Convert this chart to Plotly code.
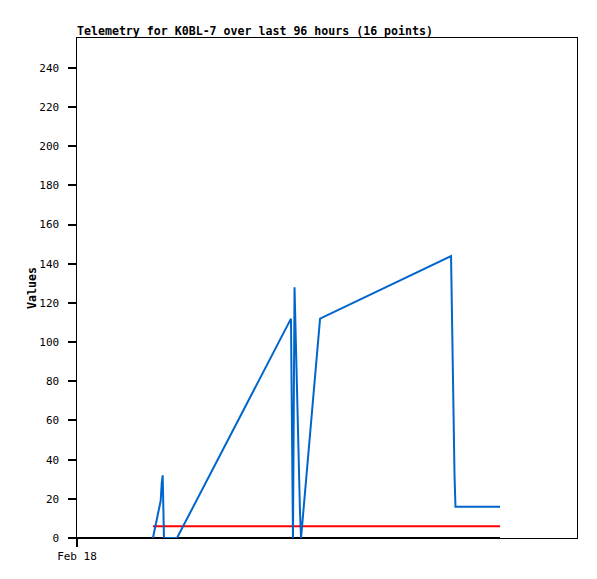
import plotly.graph_objects as go

# Blue telemetry series
blue_times = [
    "2024-02-18 14:35", "2024-02-18 16:04", "2024-02-18 16:16", "2024-02-18 16:27",
    "2024-02-18 16:42", "2024-02-18 19:12",
    "2024-02-19 17:05", "2024-02-19 17:17", "2024-02-19 17:28", "2024-02-19 17:46",
    "2024-02-19 18:03", "2024-02-19 18:14", "2024-02-19 18:32", "2024-02-19 18:49",
    "2024-02-19 19:01", "2024-02-19 22:40",
    "2024-02-20 23:49", "2024-02-20 23:54", "2024-02-21 00:06", "2024-02-21 00:17",
    "2024-02-21 00:29", "2024-02-21 00:40", "2024-02-21 09:13",
]
blue_values = [
    0, 19, 28, 32,
    0, 0,
    112, 28, 0, 128,
    96, 75, 32, 13,
    0, 112,
    144, 128, 96, 64,
    32, 16, 16,
]

red_times = ["2024-02-18 14:35", "2024-02-21 09:13"]
red_values = [6, 6]

black_times = ["2024-02-18 00:00", "2024-02-21 09:13"]
black_values = [0, 0]

x_range = ["2024-02-18 00:00", "2024-02-22 00:00"]
y_ticks = list(range(0, 241, 20))
y_ticktext = [f"{v}\u00a0" for v in y_ticks]
x_tickvals = ["2024-02-18 00:00"]
x_ticktext = ["Feb 18"]

fig = go.Figure()
fig.add_trace(go.Scatter(x=black_times, y=black_values, mode="lines",
                         line=dict(color="#000000", width=2), showlegend=False))
fig.add_trace(go.Scatter(x=red_times, y=red_values, mode="lines",
                         line=dict(color="#FF0000", width=2), showlegend=False))
fig.add_trace(go.Scatter(x=blue_times, y=blue_values, mode="lines",
                         line=dict(color="#0066CC", width=2), showlegend=False))

mono = "DejaVu Sans Mono"
fig.update_layout(
    width=597, height=579,
    margin=dict(l=69, r=28, t=30, b=49),
    plot_bgcolor="white", paper_bgcolor="white",
    title=dict(text="<b>Telemetry for K0BL-7 over last 96 hours (16 points)</b>",
               x=69/597, xanchor="left", xref="container",
               y=1-23/579, yanchor="middle", yref="container",
               font=dict(family=mono, size=11.6, color="black")),
    font=dict(family=mono, size=11, color="black"),
)
fig.update_xaxes(type="date", range=x_range, tickvals=x_tickvals, ticktext=x_ticktext,
                 showline=True, linecolor="black", linewidth=1, mirror=True,
                 ticks="outside", ticklen=8, tickwidth=1.5, tickcolor="black", showgrid=False,
                 zeroline=False, tickfont=dict(family=mono, size=11))
fig.update_yaxes(range=[0, 255.3], tickvals=y_ticks, ticktext=y_ticktext,
                 showline=True, linecolor="black", linewidth=1, mirror=True,
                 ticks="outside", ticklen=8, tickwidth=1.5, tickcolor="black", showgrid=False,
                 zeroline=False, tickfont=dict(family=mono, size=11),
                 title=dict(text="<b>Values</b>", font=dict(family=mono, size=11.6), standoff=0))

fig.write_html("out.html")
